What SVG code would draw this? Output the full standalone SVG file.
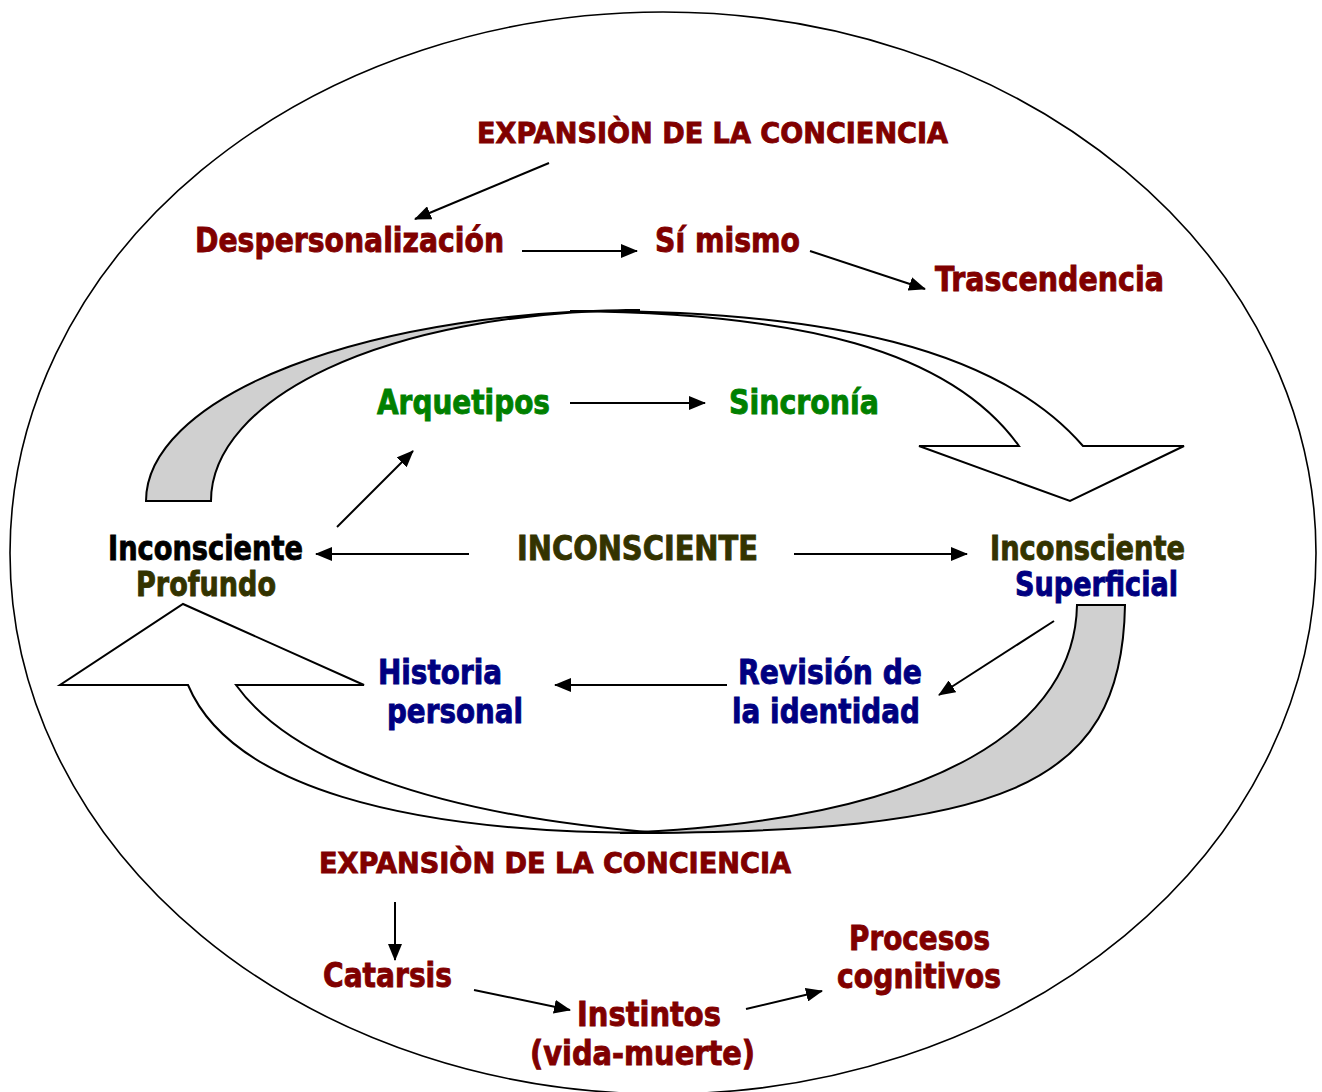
<svg xmlns="http://www.w3.org/2000/svg" width="1322" height="1092" viewBox="0 0 1322 1092">
<defs>
<marker id="ah" markerUnits="userSpaceOnUse" markerWidth="18" markerHeight="14" refX="16" refY="7" orient="auto">
<path d="M0,0 L17,7 L0,14 Z" fill="#000"/>
</marker>
<style>
text{font-family:"DejaVu Sans","Liberation Sans",sans-serif;font-weight:bold;font-size:33px;stroke-width:0.9px}
.exp{font-size:29px}
.red{fill:#800000;stroke:#800000}
.grn{fill:#008000;stroke:#008000}
.nav{fill:#000080;stroke:#000080}
.olv{fill:#333300;stroke:#333300}
.blk{fill:#000;stroke:#000}
.con{stroke:#000;stroke-width:2;fill:none;marker-end:url(#ah)}
.band{stroke:#000;stroke-width:2;stroke-linejoin:miter}
</style>
</defs>
<rect width="1322" height="1092" fill="#fff"/>
<g id="frame">
<ellipse cx="663" cy="553" rx="653" ry="541" fill="none" stroke="#000" stroke-width="1.6"/>
</g>
<g id="top-curved-arrow">
<path class="band" fill="#fff" d="M570,311 C830,309 1000,350 1083,446 L1184,446 L1070,501 L919,446 L1019,446 C950,350 800,313 570,311 Z"/>
<path class="band" fill="#d0d0d0" d="M146,501 A494,191 0 0 1 640,310 C380,312 211,400 211,501 Z"/>
</g>
<g id="bottom-curved-arrow">
<path class="band" fill="#fff" d="M660,833 C400,834 230,785 188,685 L60,685 L183,604 L364,685 L236,685 C290,760 430,815 660,833 Z"/>
<path class="band" fill="#d0d0d0" d="M1077,605 L1125,605 C1122,790 1000,833 620,833 C950,820 1075,720 1077,605 Z"/>
</g>
<g id="connectors">
<line class="con" x1="549" y1="163" x2="415" y2="219"/>
<line class="con" x1="522" y1="251" x2="637" y2="251"/>
<line class="con" x1="810" y1="251" x2="925" y2="289"/>
<line class="con" x1="570" y1="403" x2="705" y2="403"/>
<line class="con" x1="337" y1="527" x2="413" y2="451"/>
<line class="con" x1="469" y1="554" x2="316" y2="554"/>
<line class="con" x1="794" y1="554" x2="967" y2="554"/>
<line class="con" x1="1054" y1="621" x2="939" y2="695"/>
<line class="con" x1="727" y1="685" x2="555" y2="685"/>
<line class="con" x1="395" y1="902" x2="395" y2="960"/>
<line class="con" x1="474" y1="990" x2="570" y2="1010"/>
<line class="con" x1="746" y1="1009" x2="822" y2="991"/>
</g>
<g id="n-expansion-top"><text class="red exp" x="477" y="143" textLength="471" lengthAdjust="spacingAndGlyphs">EXPANSIÒN DE LA CONCIENCIA</text></g>
<g id="n-despersonalizacion"><text class="red" x="195" y="252" textLength="309" lengthAdjust="spacingAndGlyphs">Despersonalización</text></g>
<g id="n-si-mismo"><text class="red" x="655" y="252" textLength="145" lengthAdjust="spacingAndGlyphs">Sí mismo</text></g>
<g id="n-trascendencia"><text class="red" x="935" y="291" textLength="229" lengthAdjust="spacingAndGlyphs">Trascendencia</text></g>
<g id="n-arquetipos"><text class="grn" x="377" y="414" textLength="173" lengthAdjust="spacingAndGlyphs">Arquetipos</text></g>
<g id="n-sincronia"><text class="grn" x="729" y="414" textLength="150" lengthAdjust="spacingAndGlyphs">Sincronía</text></g>
<g id="n-inconsciente-profundo">
<text class="blk" x="108" y="560" textLength="195" lengthAdjust="spacingAndGlyphs">Inconsciente</text>
<text class="olv" x="136" y="596" textLength="140" lengthAdjust="spacingAndGlyphs">Profundo</text>
</g>
<g id="n-inconsciente"><text class="olv" x="517" y="560" textLength="241" lengthAdjust="spacingAndGlyphs">INCONSCIENTE</text></g>
<g id="n-inconsciente-superficial">
<text class="olv" x="990" y="560" textLength="195" lengthAdjust="spacingAndGlyphs">Inconsciente</text>
<text class="nav" x="1015" y="596" textLength="163" lengthAdjust="spacingAndGlyphs">Superficial</text>
</g>
<g id="n-historia-personal">
<text class="nav" x="378" y="684" textLength="124" lengthAdjust="spacingAndGlyphs">Historia</text>
<text class="nav" x="387" y="723" textLength="136" lengthAdjust="spacingAndGlyphs">personal</text>
</g>
<g id="n-revision-identidad">
<text class="nav" x="738" y="684" textLength="184" lengthAdjust="spacingAndGlyphs">Revisión de</text>
<text class="nav" x="732" y="723" textLength="188" lengthAdjust="spacingAndGlyphs">la identidad</text>
</g>
<g id="n-expansion-bottom"><text class="red exp" x="319" y="873" textLength="472" lengthAdjust="spacingAndGlyphs">EXPANSIÒN DE LA CONCIENCIA</text></g>
<g id="n-catarsis"><text class="red" x="323" y="987" textLength="129" lengthAdjust="spacingAndGlyphs">Catarsis</text></g>
<g id="n-procesos-cognitivos">
<text class="red" x="849" y="950" textLength="141" lengthAdjust="spacingAndGlyphs">Procesos</text>
<text class="red" x="837" y="988" textLength="164" lengthAdjust="spacingAndGlyphs">cognitivos</text>
</g>
<g id="n-instintos">
<text class="red" x="577" y="1026" textLength="144" lengthAdjust="spacingAndGlyphs">Instintos</text>
<text class="red" x="530" y="1065" textLength="225" lengthAdjust="spacingAndGlyphs">(vida-muerte)</text>
</g>
</svg>
